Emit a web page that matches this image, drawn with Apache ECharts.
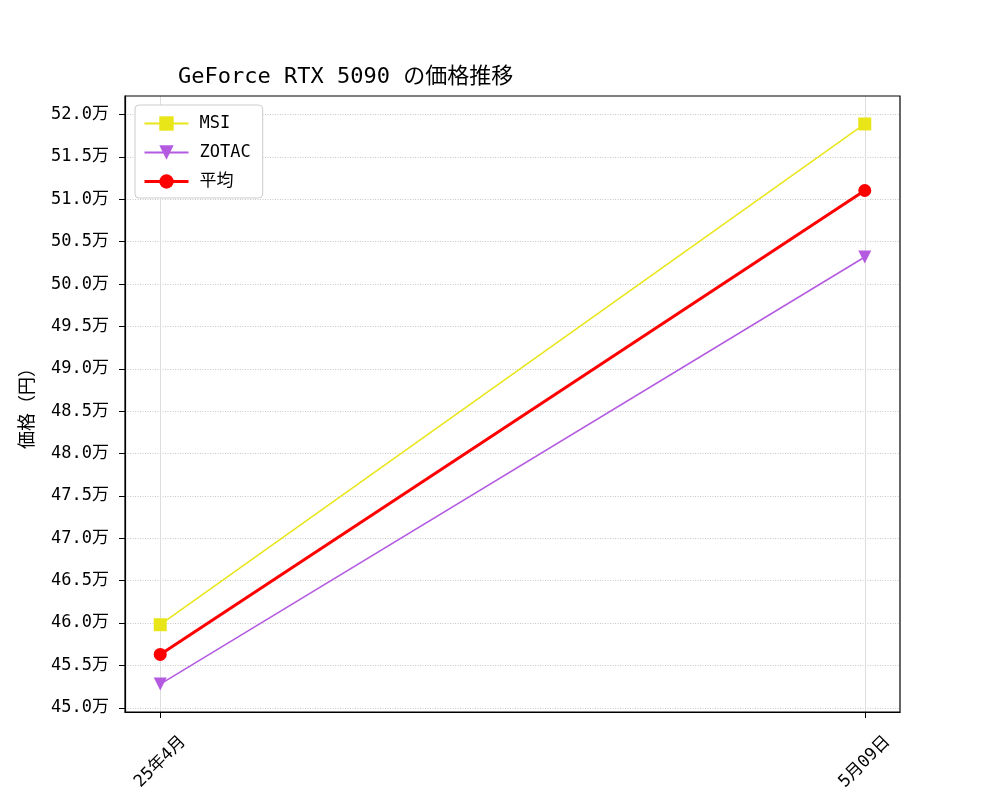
<!DOCTYPE html>
<html><head><meta charset="utf-8">
<script src="https://cdn.jsdelivr.net/npm/echarts@6/dist/echarts.min.js"></script>
<style>html,body{margin:0;padding:0;background:#fff}#c{width:1000px;height:800px}</style>
</head><body><div id="c"></div>
<script>
const categories = ['25年4月', '5月09日'];
const msi = [459800, 518900];
const zotac = [452800, 503200];
const avg = [456300, 511050];
const yTicks = [450000,455000,460000,465000,470000,475000,480000,485000,490000,495000,500000,505000,510000,515000,520000];

const FONT = '"DejaVu Sans Mono", "Noto Sans CJK JP", monospace';
const chart = echarts.init(document.getElementById('c'));
const toPts = arr => arr.map((v,i)=>[i,v]);
chart.setOption({
  animation:false,
  textStyle:{fontFamily:FONT},
  title:{text:'GeForce RTX 5090 の価格推移', left:173, top:61, textStyle:{fontFamily:FONT,fontSize:22,fontWeight:'normal',color:'#000'}},
  grid:{left:125,right:100,top:96,bottom:88},
  legend:{left:135, top:105, orient:'vertical', itemGap:12, itemWidth:44, itemHeight:18,
    padding:[10,12,8,8], borderColor:'#ccc', borderWidth:1, borderRadius:4, backgroundColor:'#fff',
    textStyle:{fontFamily:FONT,fontSize:17,color:'#000',padding:[0,0,0,6]},
    data:[{name:'MSI'},{name:'ZOTAC'},{name:'平均',lineStyle:{width:3}}]},
  xAxis:{type:'value', min:-0.05, max:1.05,
    axisLine:{show:true,onZero:false,lineStyle:{color:'#000',width:1.2}},
    axisTick:{show:true,customValues:[0,1],length:6,lineStyle:{color:'#000'}},
    axisLabel:{customValues:[0,1],rotate:45,align:'center',verticalAlign:'middle',margin:50,fontSize:17,color:'#000',fontFamily:FONT,formatter:v=>categories[Math.round(v)]},
    splitLine:{show:true,lineStyle:{color:'#ddd',width:1}}},
  yAxis:{type:'value', min:449500, max:522200,
    name:'価格（円）', nameLocation:'middle', nameGap:88, nameRotate:90,
    nameTextStyle:{fontFamily:FONT,fontSize:18,color:'#000'},
    axisLine:{show:true,onZero:false,lineStyle:{color:'#000',width:1.2}},
    axisTick:{show:true,customValues:yTicks,length:6,lineStyle:{color:'#000'}},
    axisLabel:{customValues:yTicks,margin:16,fontSize:17,color:'#000',fontFamily:FONT,formatter:v=>(v/10000).toFixed(1)+'万'},
    splitLine:{show:true,lineStyle:{color:'#bbb',width:0.8,type:[1,1.5]}}},
  series:[
    {name:'MSI',type:'line',data:toPts(msi),symbol:'rect',symbolSize:13,itemStyle:{color:'#e8e619'},lineStyle:{width:1.5,color:'#e8e619'}},
    {name:'ZOTAC',type:'line',data:toPts(zotac),symbol:'triangle',symbolRotate:180,symbolSize:13,itemStyle:{color:'#b45ae0'},lineStyle:{width:1.5,color:'#b45ae0'}},
    {name:'平均',type:'line',data:toPts(avg),symbol:'circle',symbolSize:13,itemStyle:{color:'#ff0000'},lineStyle:{width:3,color:'#ff0000'}}
  ],
  graphic:[{type:'rect',shape:{x:125,y:96,width:775,height:616},style:{fill:'none',stroke:'#000',lineWidth:1.2},silent:true,z:100}]
});
</script></body></html>
